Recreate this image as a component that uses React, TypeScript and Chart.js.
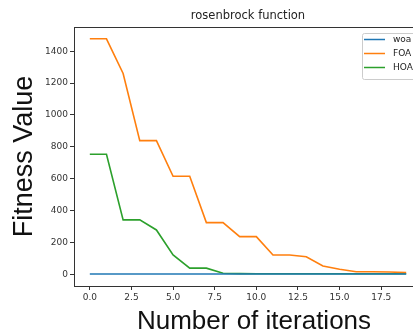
import React, { useEffect, useRef } from "react";
import { Chart, registerables } from "chart.js";

Chart.register(...registerables);

const iterations = [0, 1, 2, 3, 4, 5, 6, 7, 8, 9, 10, 11, 12, 13, 14, 15, 16, 17, 18, 19];
const woa = [1, 1, 1, 1, 1, 1, 1, 1, 1, 1, 1, 1, 1, 1, 1, 1, 1, 1, 1, 1];
const foa = [1478, 1478, 1260, 839, 839, 615, 615, 324, 324, 236, 236, 121, 121, 110, 52, 31, 16, 16, 14, 10];
const hoa = [753, 753, 341, 341, 278, 121, 38, 38, 6, 4, 3, 3, 3, 3, 3, 3, 3, 3, 3, 3];
const seriesNames = ["woa", "FOA", "HOA"];
const seriesColors = ["#1f77b4", "#ff7f0e", "#2ca02c"];
const xTicks = [0, 2.5, 5, 7.5, 10, 12.5, 15, 17.5];
const yTicks = [0, 200, 400, 600, 800, 1000, 1200, 1400];
const titleText = "rosenbrock function";
const xLabel = "Number of iterations";
const yLabel = "Fitness Value";

const TICK_FONT = { family: "'DejaVu Sans', sans-serif", size: 9 };
const LABEL_FONT = "26px 'Liberation Sans', Arial, sans-serif";

const decorPlugin = {
  id: "decor",
  afterDraw(chart: any) {
    const ctx = chart.ctx;
    const a = chart.chartArea;
    ctx.save();
    // spines
    ctx.strokeStyle = "#333";
    ctx.lineWidth = 1;
    ctx.strokeRect(a.left + 0.5, a.top + 0.5, a.right - a.left - 1, a.bottom - a.top);
    // title
    const cx = (a.left + a.right) / 2;
    ctx.fillStyle = "#222";
    ctx.font = "11.5px 'DejaVu Sans', sans-serif";
    ctx.textAlign = "center";
    ctx.textBaseline = "middle";
    ctx.fillText(titleText, cx, 16);
    // x label
    ctx.font = LABEL_FONT;
    ctx.fillStyle = "#111";
    ctx.textBaseline = "alphabetic";
    ctx.fillText(xLabel, cx + 6, 329);
    // y label
    const cy = (a.top + a.bottom) / 2;
    ctx.save();
    ctx.translate(32, cy);
    ctx.rotate(-Math.PI / 2);
    ctx.textAlign = "center";
    ctx.textBaseline = "alphabetic";
    ctx.font = "27px 'Liberation Sans', Arial, sans-serif";
    ctx.fillText(yLabel, 0, 0);
    ctx.restore();
    // legend
    const lx = 362, ly = 33, lw = 80, lh = 46;
    ctx.fillStyle = "rgba(255,255,255,0.8)";
    ctx.strokeStyle = "#ccc";
    ctx.lineWidth = 1;
    ctx.beginPath();
    (ctx as any).roundRect(lx + 0.5, ly + 0.5, lw, lh, 2);
    ctx.fill();
    ctx.stroke();
    ctx.font = "9px 'DejaVu Sans', sans-serif";
    ctx.textAlign = "left";
    ctx.textBaseline = "middle";
    seriesNames.forEach((name, i) => {
      const y = ly + 6.5 + i * 14;
      ctx.strokeStyle = seriesColors[i];
      ctx.lineWidth = 1.5;
      ctx.beginPath();
      ctx.moveTo(lx + 2, y);
      ctx.lineTo(lx + 23, y);
      ctx.stroke();
      ctx.fillStyle = "#222";
      ctx.fillText(name, lx + 31, y + 0.5);
    });
    ctx.restore();
  },
};

export default function App() {
  const ref = useRef<HTMLCanvasElement | null>(null);
  useEffect(() => {
    if (!ref.current) return;
    const all = [woa, foa, hoa];
    const chart = new Chart(ref.current, {
      type: "line",
      data: {
        datasets: all.map((vals, i) => ({
          label: seriesNames[i],
          data: iterations.map((x, j) => ({ x, y: vals[j] })),
          borderColor: seriesColors[i],
          backgroundColor: seriesColors[i],
          borderWidth: 1.6,
          pointRadius: 0,
          tension: 0,
          fill: false,
        })),
      },
      options: {
        responsive: false,
        animation: false,
        layout: { padding: { top: 27, right: 8, left: 0, bottom: 0 } },
        plugins: {
          legend: { display: false },
          title: { display: false },
          tooltip: { enabled: false },
        },
        scales: {
          x: {
            type: "linear",
            min: -0.95,
            max: 19.95,
            afterBuildTicks: (s: any) => {
              s.ticks = xTicks.map((v) => ({ value: v }));
            },
            afterFit: (s: any) => {
              s.height = 49;
            },
            ticks: {
              callback: (v: any) => Number(v).toFixed(1),
              font: TICK_FONT,
              color: "#333",
              padding: 2,
              maxRotation: 0,
              autoSkip: false,
            },
            grid: {
              drawOnChartArea: false,
              drawTicks: true,
              tickLength: 4,
              tickColor: "#333",
            },
            border: { display: true, color: "#333", width: 1 },
          },
          y: {
            type: "linear",
            min: -73.9,
            max: 1552,
            afterBuildTicks: (s: any) => {
              s.ticks = yTicks.map((v) => ({ value: v }));
            },
            afterFit: (s: any) => {
              s.width = 74;
            },
            ticks: {
              callback: (v: any) => String(v),
              font: TICK_FONT,
              color: "#333",
              padding: 2,
              autoSkip: false,
            },
            grid: {
              drawOnChartArea: false,
              drawTicks: true,
              tickLength: 4,
              tickColor: "#333",
            },
            border: { display: true, color: "#333", width: 1 },
          },
        },
      },
      plugins: [decorPlugin],
    });
    return () => chart.destroy();
  }, []);
  return (
    <div
      style={{
        position: "fixed",
        left: 0,
        top: 0,
        width: 413,
        height: 335,
        overflow: "hidden",
        background: "#fff",
      }}
    >
      <canvas ref={ref} width={430} height={335} style={{ display: "block" }} />
    </div>
  );
}
